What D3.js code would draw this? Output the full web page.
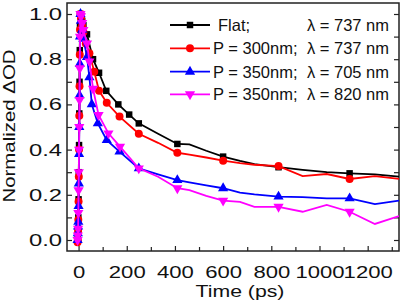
<!DOCTYPE html>
<html>
<head>
<meta charset="utf-8">
<script src="https://cdn.jsdelivr.net/npm/d3@7"></script>
<style>
  body { margin: 0; background: #fff; }
  text { font-family: "Liberation Sans", Arial, sans-serif; fill: #111; }
</style>
</head>
<body>
<svg width="408" height="308"></svg>
<script>
// time axis (ps) and normalized dOD
var blackT = [-4,-3,-2,-1,0,1,2,3,4,5,6,8,10,15,20,35,60,85,115,165,210,250,330,410,460,530,600,670,730,830,930,1030,1125,1230,1330];
var blackV = [0.0,0.02,0.05,0.1,0.18,0.3,0.42,0.56,0.7,0.84,0.95,1.0,0.99,0.97,0.95,0.91,0.80,0.74,0.66,0.60,0.555,0.516,0.47,0.425,0.423,0.395,0.369,0.35,0.336,0.322,0.31,0.30,0.295,0.29,0.28];

var redT = [-4,-3,-2,-1,0,1,2,3,4,5,6,8,10,15,20,30,45,65,85,117,170,250,330,410,460,530,600,670,730,830,930,1030,1125,1230,1330];
var redV = [-0.01,0.0,0.04,0.09,0.17,0.28,0.4,0.55,0.68,0.82,0.93,1.0,0.98,0.95,0.92,0.87,0.826,0.745,0.66,0.607,0.546,0.47,0.43,0.386,0.378,0.365,0.351,0.34,0.333,0.327,0.283,0.292,0.27,0.283,0.27];

var blueT = [-4,-3,-2,-1,0,1,2,3,4,5,6,8,10,15,20,35,45,55,80,117,170,250,330,410,460,530,600,670,730,830,930,1030,1125,1230,1330];
var blueV = [0.0,0.03,0.06,0.08,0.15,0.25,0.38,0.5,0.64,0.78,0.9,1.0,0.97,0.93,0.89,0.81,0.72,0.6,0.516,0.442,0.391,0.317,0.29,0.265,0.255,0.242,0.229,0.21,0.202,0.192,0.19,0.184,0.184,0.159,0.174];

var magT = [-4,-3,-2,-1,0,1,2,3,4,5,6,8,10,15,20,35,45,60,83,124,172,250,330,410,460,530,600,670,730,830,930,1030,1125,1230,1330];
var magV = [0.0,0.02,0.05,0.12,0.22,0.3,0.4,0.5,0.62,0.76,0.9,1.0,0.99,0.96,0.93,0.87,0.79,0.67,0.553,0.472,0.413,0.317,0.28,0.229,0.221,0.195,0.174,0.169,0.147,0.147,0.125,0.155,0.125,0.071,0.106];

// later points only carry a symbol every so often
var lateMarks = [410, 600, 830, 1125];

var labelsLeft = ["Flat;", "P = 300nm;", "P = 350nm;", "P = 350nm;"];
var labelsRight = ["\u03bb = 737 nm", "\u03bb = 737 nm", "\u03bb = 705 nm", "\u03bb = 820 nm"];

var series = [
    { t: blackT, v: blackV, color: "#000000", sym: d3.symbolSquare, rot: 0, size: 42 },
    { t: redT, v: redV, color: "#ff0000", sym: d3.symbolCircle, rot: 0, size: 50 },
    { t: blueT, v: blueV, color: "#0000ff", sym: d3.symbolTriangle, rot: 0, size: 45 },
    { t: magT, v: magV, color: "#ff00ff", sym: d3.symbolTriangle, rot: 180, size: 45 }
];

var pLeft = 67, pRight = 399, pTop = 3, pBottom = 251;
var svg = d3.select("svg");

var x = d3.scaleLinear().domain([-48, 1330]).range([pLeft, pRight]);
var y = d3.scaleLinear().domain([-0.05, 1.05]).range([251.3, 2.7]);

svg.append("clipPath").attr("id", "clip")
  .append("rect").attr("x", pLeft).attr("y", pTop)
    .attr("width", pRight - pLeft).attr("height", pBottom - pTop);

// x axis
var xAxisG = svg.append("g")
    .attr("transform", "translate(0," + pBottom + ")")
    .call(d3.axisBottom(x).tickValues(d3.range(0, 1301, 100))
        .tickSize(-5).tickPadding(15)
        .tickFormat(function(d) { return d % 200 === 0 ? d : ""; }));
xAxisG.select(".domain").remove();
xAxisG.selectAll(".tick line").attr("stroke", "#222").attr("stroke-width", 1.2)
    .attr("y2", function(d) { return d % 200 === 0 ? -5 : -4; });
xAxisG.selectAll(".tick text").style("font-size", "17px").attr("fill", "#111")
    .attr("transform", "scale(1.3,1)");

// y axis
var yAxisG = svg.append("g")
    .attr("transform", "translate(" + pLeft + ",0)")
    .call(d3.axisLeft(y).tickValues(d3.range(0, 1.01, 0.1))
        .tickSize(-5)
        .tickFormat(function(d, i) { return i % 2 === 0 ? d3.format(".1f")(d) : ""; }));
yAxisG.select(".domain").remove();
yAxisG.selectAll(".tick line").attr("stroke", "#222").attr("stroke-width", 1.2);
yAxisG.selectAll(".tick text").style("font-size", "17px").attr("fill", "#111")
    .attr("x", null)
    .attr("transform", "translate(-5,0) scale(1.4,1)");

// right side ticks, no labels
var yRightG = svg.append("g")
    .attr("transform", "translate(" + pRight + ",0)")
    .call(d3.axisRight(y).tickValues(d3.range(0, 1.01, 0.1)).tickSize(-5).tickFormat(""));
yRightG.select(".domain").remove();
yRightG.selectAll(".tick line").attr("stroke", "#222").attr("stroke-width", 1.2);

// frame
svg.append("rect")
    .attr("x", pLeft).attr("y", pTop)
    .attr("width", pRight - pLeft).attr("height", pBottom - pTop)
    .attr("fill", "none").attr("stroke", "#222").attr("stroke-width", 1.5);

// titles
svg.append("text")
    .attr("transform", "translate(240,297) scale(1.25,1)")
    .attr("text-anchor", "middle")
    .style("font-size", "17px")
    .text("Time (ps)");

svg.append("text")
    .attr("transform", "translate(15,126) rotate(-90) scale(1.2,1)")
    .attr("text-anchor", "middle")
    .style("font-size", "17px")
    .text("Normalized \u0394OD");

// data
var plot = svg.append("g").attr("clip-path", "url(#clip)");

var line = d3.line()
    .x(function(d) { return x(d[0]); })
    .y(function(d) { return y(d[1]); });

series.forEach(function(s) {
    var pts = s.t.map(function(t, i) { return [t, s.v[i]]; });
    plot.append("path")
        .datum(pts)
        .attr("fill", "none")
        .attr("stroke", s.color)
        .attr("stroke-width", 1.8)
        .attr("d", line);
    plot.selectAll(null)
        .data(pts.filter(function(p) { return p[0] <= 250 || lateMarks.indexOf(p[0]) >= 0; }))
        .enter().append("path")
        .attr("d", d3.symbol().type(s.sym).size(s.size))
        .attr("fill", s.color)
        .attr("transform", function(p) {
            return "translate(" + x(p[0]) + "," + y(p[1]) + ") rotate(" + s.rot + ")";
        });
});

// legend
var legRows = [25, 48.3, 71.7, 94.3];
series.forEach(function(s, i) {
    var g = svg.append("g").attr("transform", "translate(170," + legRows[i] + ")");
    g.append("line").attr("x1", 0).attr("x2", 40)
        .attr("stroke", s.color).attr("stroke-width", 1.8);
    g.append("path")
        .attr("d", d3.symbol().type(s.sym).size(s.size))
        .attr("fill", s.color)
        .attr("transform", "translate(20,0) rotate(" + s.rot + ")");
    g.append("text")
        .attr("x", i === 0 ? 48 : 43)
        .attr("dy", "0.36em")
        .style("font-size", "16.5px")
        .text(labelsLeft[i]);
    g.append("text")
        .attr("x", 219)
        .attr("text-anchor", "end")
        .attr("dy", "0.36em")
        .style("font-size", "16.5px")
        .text(labelsRight[i]);
});
</script>
</body>
</html>
